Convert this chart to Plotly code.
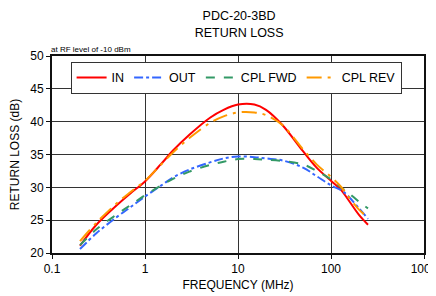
import plotly.graph_objects as go

freq = [0.2, 0.3, 0.5, 0.7, 1, 1.5, 2, 3, 5, 7, 10, 15, 20, 30, 50, 70, 100, 130, 150, 200, 250]
rl_in = [21.1, 24.3, 27.3, 29.1, 30.9, 33.6, 35.6, 38.0, 40.6, 41.8, 42.6, 42.6, 41.8, 39.5, 35.5, 33.0, 31.0, 29.5, 28.3, 25.8, 24.3]
rl_out = [20.6, 23.0, 25.5, 27.0, 28.6, 30.3, 31.5, 32.7, 33.8, 34.4, 34.7, 34.6, 34.4, 34.1, 33.0, 31.7, 30.3, 29.5, 28.8, 26.8, 25.2]
rl_fwd = [21.2, 23.6, 25.9, 27.3, 28.8, 30.3, 31.3, 32.4, 33.4, 33.9, 34.3, 34.3, 34.2, 34.0, 33.5, 32.5, 31.2, 29.9, 29.3, 27.8, 26.8]
rl_rev = [21.8, 24.6, 27.6, 29.3, 31.0, 33.5, 35.3, 37.5, 39.8, 40.8, 41.4, 41.4, 41.0, 39.5, 35.8, 33.5, 31.6, 30.0, 28.8, 26.6, 25.4]

series = [
    ("IN", rl_in, "#ff0000", "solid"),
    ("OUT", rl_out, "#3366ff", "dashdot"),
    ("CPL FWD", rl_fwd, "#339966", "dash"),
    ("CPL REV", rl_rev, "#ff9900", "longdashdot"),
]

x_ticks = [0.1, 1, 10, 100, 1000]
x_labels = ["0.1", "1", "10", "100", "1000"]
y_ticks = [20, 25, 30, 35, 40, 45, 50]

fig = go.Figure()
for name, vals, color, dash in series:
    fig.add_trace(go.Scatter(x=freq, y=vals, name=name, mode="lines",
                             line=dict(color=color, width=2, dash=dash, shape="spline")))

fig.update_layout(
    width=436, height=296,
    margin=dict(l=44, r=20, t=48, b=51),
    paper_bgcolor="white", plot_bgcolor="white",
    font=dict(family="Liberation Sans, Arial", size=12, color="#000"),
    title=dict(text="PDC-20-3BD<br>RETURN LOSS", x=0.53, xanchor="center", y=0.958, yanchor="top",
               font=dict(size=12.5)),
    showlegend=True,
    legend=dict(orientation="h", x=0.05, xanchor="left", y=0.97, yanchor="top",
                bgcolor="white", bordercolor="#333", borderwidth=1,
                font=dict(size=12.5), itemwidth=30, tracegroupgap=0),
    xaxis=dict(type="log", range=[-1, 3], tickvals=x_ticks, ticktext=x_labels,
               showgrid=True, gridcolor="#333", gridwidth=1,
               showline=True, linecolor="#111", linewidth=2, mirror=True,
               ticks="outside", ticklen=4, tickcolor="#111", automargin=False,
               title=dict(text="FREQUENCY (MHz)", font=dict(size=12), standoff=5)),
    yaxis=dict(range=[20, 50], tickvals=y_ticks,
               showgrid=True, gridcolor="#333", gridwidth=1,
               showline=True, linecolor="#111", linewidth=2, mirror=True,
               ticks="outside", ticklen=4, tickcolor="#111", automargin=False,
               title=dict(text="RETURN LOSS (dB)", font=dict(size=12), standoff=8)),
    annotations=[dict(text="at RF level of -10 dBm", xref="paper", yref="paper",
                      x=-0.008, y=1.0, xanchor="left", yanchor="bottom",
                      showarrow=False, font=dict(size=8))],
)

fig.write_html("out.html")
